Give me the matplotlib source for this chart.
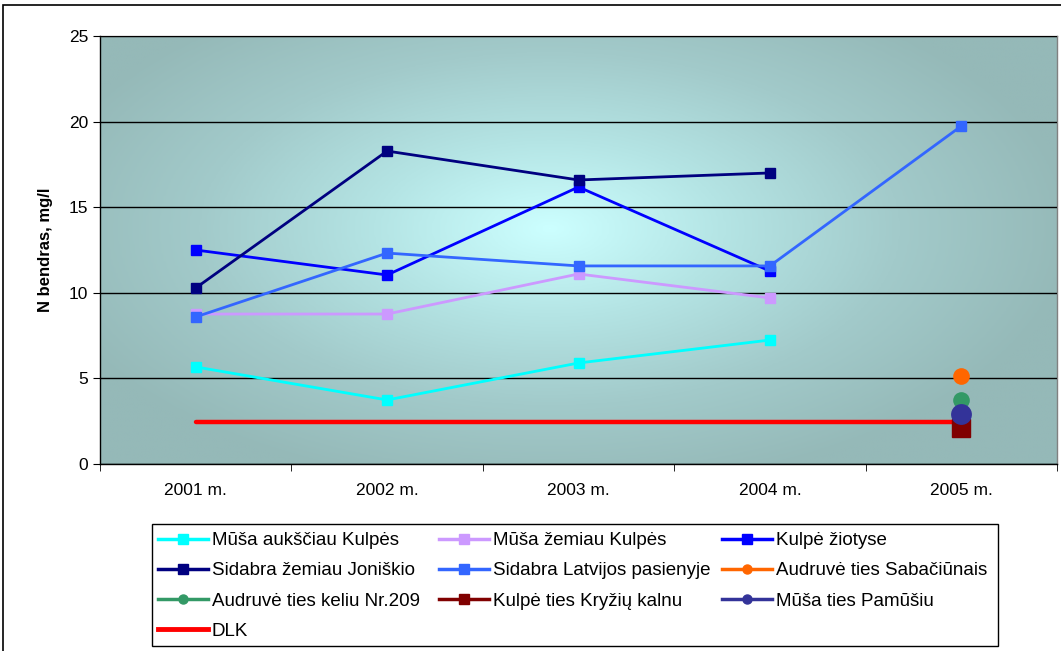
import numpy as np
import matplotlib
matplotlib.use("Agg")
import matplotlib.pyplot as plt
from matplotlib.colors import LinearSegmentedColormap
from matplotlib.lines import Line2D
from matplotlib.patches import Rectangle

plt.rcParams['font.family'] = ['Liberation Sans', 'DejaVu Sans']

years = ["2001 m.", "2002 m.", "2003 m.", "2004 m.", "2005 m."]

musa_auksciau = [5.67, 3.74, 5.9, 7.24, np.nan]
musa_zemiau = [8.76, 8.76, 11.1, 9.7, np.nan]
kulpe_ziotyse = [12.5, 11.04, 16.18, 11.27, np.nan]
sidabra_joniskio = [10.28, 18.28, 16.59, 17.0, np.nan]
sidabra_latvijos = [8.59, 12.32, 11.57, 11.57, 19.74]
audruve_sabaciunais = [np.nan, np.nan, np.nan, np.nan, 5.14]
audruve_keliu = [np.nan, np.nan, np.nan, np.nan, 3.74]
kulpe_kryziu = [np.nan, np.nan, np.nan, np.nan, 2.1]
musa_pamusiu = [np.nan, np.nan, np.nan, np.nan, 2.92]
dlk = [2.45, 2.45, 2.45, 2.45, 2.45]

series = [
    ("Mūša aukščiau Kulpės", musa_auksciau, "#00FFFF", "s"),
    ("Mūša žemiau Kulpės", musa_zemiau, "#CC99FF", "s"),
    ("Kulpė žiotyse", kulpe_ziotyse, "#0000FF", "s"),
    ("Sidabra žemiau Joniškio", sidabra_joniskio, "#000080", "s"),
    ("Sidabra Latvijos pasienyje", sidabra_latvijos, "#3366FF", "s"),
    ("Audruvė ties Sabačiūnais", audruve_sabaciunais, "#FF6600", "o"),
    ("Audruvė ties keliu Nr.209", audruve_keliu, "#339966", "o"),
    ("Kulpė ties Kryžių kalnu", kulpe_kryziu, "#800000", "s"),
    ("Mūša ties Pamūšiu", musa_pamusiu, "#333399", "o"),
]

W, H = 1061, 651
fig = plt.figure(figsize=(W / 100, H / 100), dpi=100)
fig.patch.set_facecolor("white")

# outer chart frame
fig.add_artist(Rectangle((3 / W, -0.01), 1.1, 1 - 5 / H + 0.01, transform=fig.transFigure,
                         fill=False, edgecolor="black", linewidth=1.2))

ax = fig.add_axes([100 / W, 1 - 464 / H, 957 / W, 428 / H])
x = np.arange(len(years))
ax.set_xlim(-0.5, len(years) - 0.5)
ax.set_ylim(0, 25)

# radial gradient background of the plot area
gx, gy = np.meshgrid(np.linspace(0, 1, 400), np.linspace(0, 1, 300))
r = np.sqrt(((gx - 0.47) / 0.55) ** 2 + ((gy - 0.55) / 0.62) ** 2)
r = np.clip(r, 0, 1)
cmap = LinearSegmentedColormap.from_list("bg", ["#CCFFFF", "#B4E4E4", "#A2CACA", "#95B9B8"])
ax.imshow(r, cmap=cmap, extent=[-0.5, len(years) - 0.5, 0, 25], origin="lower",
          aspect="auto", zorder=0, vmin=0, vmax=1, interpolation="bilinear")

ax.set_yticks([0, 5, 10, 15, 20, 25])
ax.yaxis.grid(True, color="black", linewidth=1.0)
ax.set_axisbelow(False)
for gl in ax.get_ygridlines():
    gl.set_zorder(1)
ax.set_xticks(x)
ax.set_xticklabels(years)
ax.set_xticks(np.arange(len(years) + 1) - 0.5, minor=True)
ax.tick_params(axis="x", which="major", length=0, pad=14, labelsize=12.5)
ax.tick_params(axis="x", which="minor", length=5, color="black")
ax.tick_params(axis="y", length=5, labelsize=12.5, color="black")
for s in ax.spines.values():
    s.set_color("#808080")
    s.set_linewidth(1.0)
ax.spines["left"].set_color("black")
ax.spines["bottom"].set_color("black")
ax.set_ylabel("N bendras, mg/l", fontsize=12, fontweight="bold", labelpad=11)

ax.plot(x, dlk, color="#FF0000", linewidth=3.2, solid_capstyle="round", zorder=3)

for label, vals, color, marker in series:
    if marker == "s":
        ax.plot(x, vals, color=color, linewidth=2.0, marker="s",
                markersize=6.5 if label != "Kulpė ties Kryžių kalnu" else 13, zorder=4)
    else:
        ax.plot(x, vals, color=color, linewidth=2.0, marker="o",
                markersize=12 if label != "Mūša ties Pamūšiu" else 15,
                markeredgewidth=0, zorder=5)

handles = []
for label, vals, color, marker in series:
    handles.append(Line2D([], [], color=color, linewidth=2.5, marker=marker, markersize=6.5, label=label))
handles.append(Line2D([], [], color="#FF0000", linewidth=3.5, label="DLK"))

# legend frame and three equally spaced columns, entries read row by row
fig.add_artist(Rectangle((152 / W, 1 - 646 / H), 846 / W, 122 / H, transform=fig.transFigure,
                         fill=False, edgecolor="black", linewidth=1.0, zorder=10))
col_x = [158, 439, 722]
for c, cx in enumerate(col_x):
    col_handles = handles[c::3]
    fig.legend(handles=col_handles, loc="upper left",
               bbox_to_anchor=(cx / W, 1 - 532 / H), fontsize=13.5,
               frameon=False, borderpad=0.0, borderaxespad=0.0,
               handlelength=2.67, handletextpad=0.2, labelspacing=0.7)

fig.savefig("out.png", dpi=100)
